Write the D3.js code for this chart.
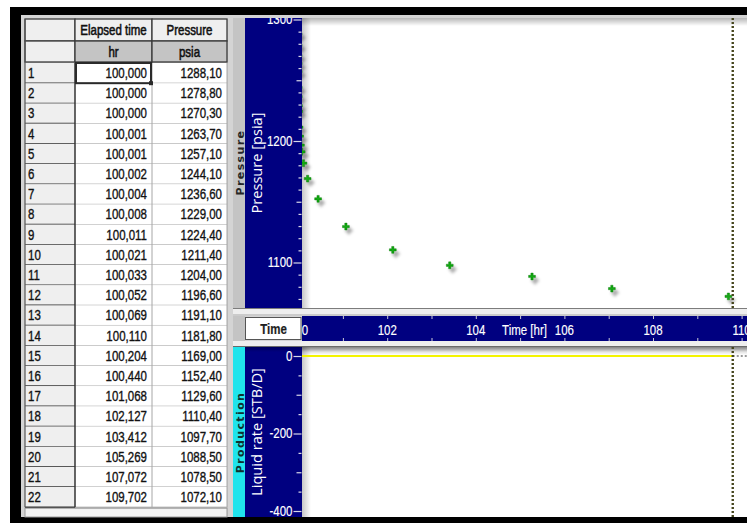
<!DOCTYPE html>
<html>
<head>
<meta charset="utf-8">
<script src="https://cdn.jsdelivr.net/npm/d3@7"></script>
<style>
  html, body { margin: 0; padding: 0; background: #fff; }
  svg { display: block; }
</style>
</head>
<body>
<svg id="chart" width="747" height="523"></svg>
<script>
// ---- Test record: elapsed time (hr) and gauge pressure (psia) ----
const rowNumbers = d3.range(1, 23);
const elapsedTime = [100.000, 100.000, 100.000, 100.001, 100.001, 100.002, 100.004, 100.008,
  100.011, 100.021, 100.033, 100.052, 100.069, 100.110, 100.204, 100.440, 101.068, 102.127,
  103.412, 105.269, 107.072, 109.702];
const pressure = [1288.10, 1278.80, 1270.30, 1263.70, 1257.10, 1244.10, 1236.60, 1229.00,
  1224.40, 1211.40, 1204.00, 1196.60, 1191.10, 1181.80, 1169.00, 1152.40, 1129.60, 1110.40,
  1097.70, 1088.50, 1078.50, 1072.10];
const columnHeaders = ["Elapsed time", "Pressure"];
const columnUnits = ["hr", "psia"];

// ---- Liquid rate history and end-of-period marker ----
const rateTime = [100.0, 109.8];
const liquidRate = [0, 0];
const markerTime = 109.8;

// ---- Tick values ----
const timeTicks = d3.range(100, 111, 1);
const timeLabelTicks = [100, 102, 104, 106, 108, 110];
const pressureMinorTicks = d3.range(1060, 1301, 10).filter(v => v % 50 !== 0);
const pressureMidTicks = [1150, 1250];
const pressureLabelTicks = [1100, 1200, 1300];
const rateMinorTicks = [-50, -150, -250, -350];
const rateMidTicks = [-100, -300];
const rateLabelTicks = [0, -200, -400];

// ---- Layout ----
const NAVY = "#000080";
const NARROW = 0.82;                 // horizontal squeeze for the narrow UI face
const UI_FONT = "'Liberation Sans', Arial, sans-serif";
const plotL = 302, plotR = 747;
const topP = { y0: 18, y1: 308 };
const timeBar = { y0: 316, y1: 341 };
const botP = { y0: 347, y1: 517 };

const svg = d3.select("#chart");
const defs = svg.append("defs");

const loc = d3.formatLocale({ decimal: ",", thousands: ".", grouping: [3], currency: ["", ""], minus: "-" });
const fmtTime = loc.format(".3f");
const fmtP = loc.format(".2f");

// shadow filter for plotted marks
const shadow = defs.append("filter").attr("id", "markShadow")
  .attr("x", "-100%").attr("y", "-100%").attr("width", "300%").attr("height", "300%");
shadow.append("feDropShadow").attr("dx", 3).attr("dy", 4).attr("stdDeviation", 1.8)
  .attr("flood-color", "#000").attr("flood-opacity", 0.35);

const gV = defs.append("linearGradient").attr("id", "shadeDown").attr("x1", 0).attr("y1", 0).attr("x2", 0).attr("y2", 1);
gV.append("stop").attr("offset", 0).attr("stop-color", "#000").attr("stop-opacity", 0.28);
gV.append("stop").attr("offset", 1).attr("stop-color", "#000").attr("stop-opacity", 0);
const gH = defs.append("linearGradient").attr("id", "shadeRight").attr("x1", 0).attr("y1", 0).attr("x2", 1).attr("y2", 0);
gH.append("stop").attr("offset", 0).attr("stop-color", "#000").attr("stop-opacity", 0.22);
gH.append("stop").attr("offset", 1).attr("stop-color", "#000").attr("stop-opacity", 0);

function clipRect(id, x, y, w, h) {
  defs.append("clipPath").attr("id", id).append("rect")
    .attr("x", x).attr("y", y).attr("width", w).attr("height", h);
}
clipRect("clipTopPlot", plotL, topP.y0, plotR - plotL, topP.y1 - topP.y0);
clipRect("clipBotPlot", plotL, botP.y0, plotR - plotL, botP.y1 - botP.y0);
clipRect("clipTopAxis", 245, topP.y0, plotL - 245, topP.y1 - topP.y0);
clipRect("clipBotAxis", 245, botP.y0, plotL - 245, botP.y1 - botP.y0);
clipRect("clipTimeBar", plotL, timeBar.y0, plotR - plotL, timeBar.y1 - timeBar.y0);

// narrow text helper: squeezes glyphs horizontally around the anchor point
function ntext(parent, str, x, y, anchor, opts = {}) {
  const fill = opts.fill || "#111";
  return parent.append("text")
    .attr("transform", `translate(${x},${y}) scale(${NARROW},1)`)
    .attr("text-anchor", anchor)
    .attr("font-family", UI_FONT)
    .attr("font-size", opts.size || 14)
    .attr("font-weight", opts.weight || "normal")
    .attr("fill", fill)
    .attr("stroke", fill).attr("stroke-width", opts.heavy === undefined ? 0.35 : opts.heavy)
    .text(str);
}
function rect(parent, x, y, w, h, fill, stroke, sw) {
  const r = parent.append("rect").attr("x", x).attr("y", y).attr("width", w).attr("height", h).attr("fill", fill);
  if (stroke) r.attr("stroke", stroke).attr("stroke-width", sw || 1);
  return r;
}
function hline(parent, x0, x1, y, color, w) {
  parent.append("line").attr("x1", x0).attr("x2", x1).attr("y1", y).attr("y2", y)
    .attr("stroke", color).attr("stroke-width", w || 1);
}
function vline(parent, x, y0, y1, color, w) {
  parent.append("line").attr("x1", x).attr("x2", x).attr("y1", y0).attr("y2", y1)
    .attr("stroke", color).attr("stroke-width", w || 1);
}

// ---- Window frame ----
rect(svg, 0, 0, 747, 523, "#fff");
rect(svg, 10, 7, 737, 516, "#000");
rect(svg, 21, 15, 726, 502, "#d4d4d4");

// ---- Data grid ----
const grid = svg.append("g");
const colX = [25, 75, 152, 227];
const hdr1 = { y0: 19, y1: 41 }, hdr2 = { y0: 41, y1: 62 };
const rowTop = 63, rowH = 20.19;

rect(grid, 25, 19, 203, 498, "#c8c8c8");
// header rows
rect(grid, colX[0], hdr1.y0, colX[1] - colX[0], hdr1.y1 - hdr1.y0, "#efefef", "#3a3a3a", 1.3);
rect(grid, colX[0], hdr2.y0, colX[1] - colX[0], hdr2.y1 - hdr2.y0, "#efefef", "#3a3a3a", 1.3);
columnHeaders.forEach((h, i) => {
  const x0 = colX[i + 1], x1 = colX[i + 2];
  rect(grid, x0, hdr1.y0, x1 - x0, hdr1.y1 - hdr1.y0, "#efefef", "#3a3a3a", 1.3);
  rect(grid, x0, hdr2.y0, x1 - x0, hdr2.y1 - hdr2.y0, "#c4c4c4", "#3a3a3a", 1.3);
  ntext(grid, h, (x0 + x1) / 2, 35, "middle", { heavy: 0.55 });
  ntext(grid, columnUnits[i], (x0 + x1) / 2, 56.5, "middle", { heavy: 0.55 });
});

// body rows
rowNumbers.forEach((n, i) => {
  const y = rowTop + i * rowH;
  rect(grid, colX[0], y, colX[1] - colX[0], rowH, "#efefef");
  rect(grid, colX[1], y, colX[3] - colX[1], rowH, "#fff");
  hline(grid, colX[0], colX[1], y + rowH, "#333", 1.4);
  hline(grid, colX[1], colX[3], y + rowH, "#a6a6a6", 1);
  ntext(grid, String(n), 28, y + rowH / 2 + 5, "start");
  ntext(grid, fmtTime(elapsedTime[i]), 147, y + rowH / 2 + 5, "end");
  ntext(grid, fmtP(pressure[i]), 222, y + rowH / 2 + 5, "end");
});
const bodyBottom = rowTop + rowNumbers.length * rowH;
vline(grid, colX[1], rowTop, bodyBottom, "#333", 1.5);
vline(grid, colX[2], rowTop, bodyBottom, "#a6a6a6", 1);
vline(grid, colX[3], rowTop, bodyBottom, "#a6a6a6", 1);
vline(grid, colX[0], hdr1.y0, bodyBottom, "#555", 1.2);
rect(grid, colX[0], bodyBottom + 1, colX[3] - colX[0], 517 - bodyBottom - 1, "#f2f2f2", "#9a9a9a", 1);
// active cell
rect(grid, colX[1] + 1, rowTop, colX[2] - colX[1] - 2, rowH, "none", "#2a2a2a", 2);
rect(grid, colX[2] - 3, rowTop + rowH - 2, 4, 4, "#2a2a2a");

// ---- Scales ----
const x = d3.scaleLinear().domain([100, 110]).range([298.6, 741.6]);
const yP = d3.scaleLinear().domain([1100, 1300]).range([262.5, 19.5]);
const yR = d3.scaleLinear().domain([-400, 0]).range([511, 356]);

// ---- Panel chrome ----
function panel(p, stripFill) {
  rect(svg, 233, p.y0, 12, p.y1 - p.y0, stripFill);
  rect(svg, 245, p.y0, plotL - 245, p.y1 - p.y0, NAVY);
  rect(svg, plotL, p.y0, plotR - plotL, p.y1 - p.y0, "#fff");
  rect(svg, plotL, p.y0, plotR - plotL, 8, "url(#shadeDown)");
  rect(svg, plotL, p.y0, 9, p.y1 - p.y0, "url(#shadeRight)");
}
panel(topP, "#c4c4c4");
panel(botP, "#20e4ec");
// separators
rect(svg, 233, topP.y1, 514, timeBar.y0 - topP.y1, "#eeeeee");
hline(svg, 233, 747, topP.y1 + 0.5, "#7c7c7c", 1);
hline(svg, 233, 747, timeBar.y0 - 1, "#a8a8a8", 1);
rect(svg, 233, timeBar.y1, 514, botP.y0 - timeBar.y1, "#eeeeee");
hline(svg, 233, 747, botP.y0 - 0.5, "#6a6a6a", 1.2);
rect(svg, plotL - 57, botP.y0, 514, 5, "url(#shadeDown)");

// ---- Time bar ----
rect(svg, 233, timeBar.y0, 12, timeBar.y1 - timeBar.y0, "#c4c4c4");
rect(svg, 245.5, timeBar.y0 + 1.5, plotL - 246.5, timeBar.y1 - timeBar.y0 - 3, "#fff", "#555", 1);
ntext(svg, "Time", 273.5, 334, "middle", { weight: "bold", fill: "#1e1e1e", heavy: 0.2 });
rect(svg, plotL, timeBar.y0, plotR - plotL, timeBar.y1 - timeBar.y0, NAVY);

const tb = svg.append("g").attr("clip-path", "url(#clipTimeBar)");
tb.append("g").attr("transform", `translate(0,${timeBar.y0})`)
  .call(d3.axisBottom(x).tickValues(timeTicks).tickSize(3).tickFormat(""))
  .call(g => g.select(".domain").remove())
  .call(g => g.selectAll("line").attr("stroke", "#c8c8d8"));
tb.append("g").attr("transform", `translate(0,${timeBar.y1})`)
  .call(d3.axisTop(x).tickValues(timeTicks).tickSize(3).tickFormat(""))
  .call(g => g.select(".domain").remove())
  .call(g => g.selectAll("line").attr("stroke", "#c8c8d8"));
timeLabelTicks.forEach(t => ntext(tb, String(t), x(t), 334.5, "middle", { fill: "#fff", heavy: 0.15 }));
ntext(tb, "Time [hr]", 524.5, 334.5, "middle", { fill: "#fff", heavy: 0.15 });

// ---- Y axes ----
function yAxis(clipId, scale, minor, mid, major) {
  const outer = svg.append("g").attr("clip-path", `url(#${clipId})`);
  const g = outer.append("g").attr("transform", `translate(${plotL - 0.5},0)`);
  const draw = (vals, size, labels) => {
    g.append("g")
      .call(d3.axisLeft(scale).tickValues(vals).tickSize(size).tickPadding(2)
        .tickFormat(labels ? (d => String(d)) : ""))
      .call(a => a.select(".domain").remove())
      .call(a => a.selectAll("line").attr("stroke", "#d8d8e8").attr("stroke-width", 1.2))
      .call(a => a.selectAll("text")
        .attr("font-family", UI_FONT).attr("font-size", 14).attr("fill", "#fff")
        .attr("stroke", "#fff").attr("stroke-width", 0.15)
        .attr("x", -(size + 1) / NARROW)
        .attr("transform", `scale(${NARROW},1)`));
  };
  draw(minor, 3, false);
  draw(mid, 5, false);
  draw(major, 8, true);
  return outer;
}
yAxis("clipTopAxis", yP, pressureMinorTicks, pressureMidTicks, pressureLabelTicks);
yAxis("clipBotAxis", yR, rateMinorTicks, rateMidTicks, rateLabelTicks);

// axis titles
svg.append("text").attr("transform", `translate(262,${(topP.y0 + topP.y1) / 2}) rotate(-90)`)
  .attr("text-anchor", "middle").attr("font-family", "'Open Sans', sans-serif").attr("font-size", 14.6)
  .attr("fill", "#fff").text("Pressure [psia]");
svg.append("text").attr("transform", `translate(262,${(botP.y0 + botP.y1) / 2}) rotate(-90)`)
  .attr("text-anchor", "middle").attr("font-family", "'Open Sans', sans-serif").attr("font-size", 14.6)
  .attr("fill", "#fff").text("Liquid rate [STB/D]");
svg.append("text").attr("transform", `translate(243.5,162.5) rotate(-90)`)
  .attr("text-anchor", "middle").attr("font-family", "'DejaVu Sans', sans-serif").attr("font-weight", "bold")
  .attr("font-size", 11).attr("letter-spacing", 1.4).attr("fill", "#262626").text("Pressure");
svg.append("text").attr("transform", `translate(243.5,432.5) rotate(-90)`)
  .attr("text-anchor", "middle").attr("font-family", "'DejaVu Sans', sans-serif").attr("font-weight", "bold")
  .attr("font-size", 11).attr("letter-spacing", 1.4).attr("fill", "#10302f").text("Production");

// ---- Pressure points ----
const pts = svg.append("g").attr("clip-path", "url(#clipTopPlot)");
const cross = d3.symbol().type(d3.symbolCross).size(26);
pts.selectAll("path.pt").data(elapsedTime.map((t, i) => [t, pressure[i]])).join("path")
  .attr("class", "pt")
  .attr("transform", d => `translate(${x(d[0])},${yP(d[1])})`)
  .attr("d", cross)
  .attr("fill", "#12a812")
  .attr("stroke", "#067006").attr("stroke-width", 0.4)
  .attr("filter", "url(#markShadow)");

// ---- Liquid rate ----
const rates = svg.append("g").attr("clip-path", "url(#clipBotPlot)");
const rateLine = d3.line().x(d => x(d[0])).y(d => yR(d[1]));
const rateData = rateTime.map((t, i) => [t, liquidRate[i]]);
rates.append("path").attr("d", rateLine(rateData)).attr("fill", "none")
  .attr("stroke", "#7a7a00").attr("stroke-width", 3.6).attr("filter", "url(#markShadow)");
rates.append("path").attr("d", rateLine(rateData)).attr("fill", "none")
  .attr("stroke", "#f4f400").attr("stroke-width", 2);
rates.append("path")
  .attr("d", rateLine([[rateTime[rateTime.length - 1], liquidRate[liquidRate.length - 1]], [x.invert(plotR), liquidRate[liquidRate.length - 1]]]))
  .attr("fill", "none").attr("stroke", "#7a7a7a").attr("stroke-width", 1.4).attr("stroke-dasharray", "2,2");

// ---- End-of-period marker line in both panels ----
[[topP, "clipTopPlot"], [botP, "clipBotPlot"]].forEach(([p, clip]) => {
  const g = svg.append("g").attr("clip-path", `url(#${clip})`);
  g.append("line").attr("x1", x(markerTime)).attr("x2", x(markerTime)).attr("y1", p.y0).attr("y2", p.y1)
    .attr("stroke", "#a0a000").attr("stroke-width", 2.4).attr("filter", "url(#markShadow)");
  g.append("line").attr("x1", x(markerTime)).attr("x2", x(markerTime)).attr("y1", p.y0).attr("y2", p.y1)
    .attr("stroke", "#45451c").attr("stroke-width", 2.4).attr("stroke-dasharray", "2,2");
});
</script>
</body>
</html>
